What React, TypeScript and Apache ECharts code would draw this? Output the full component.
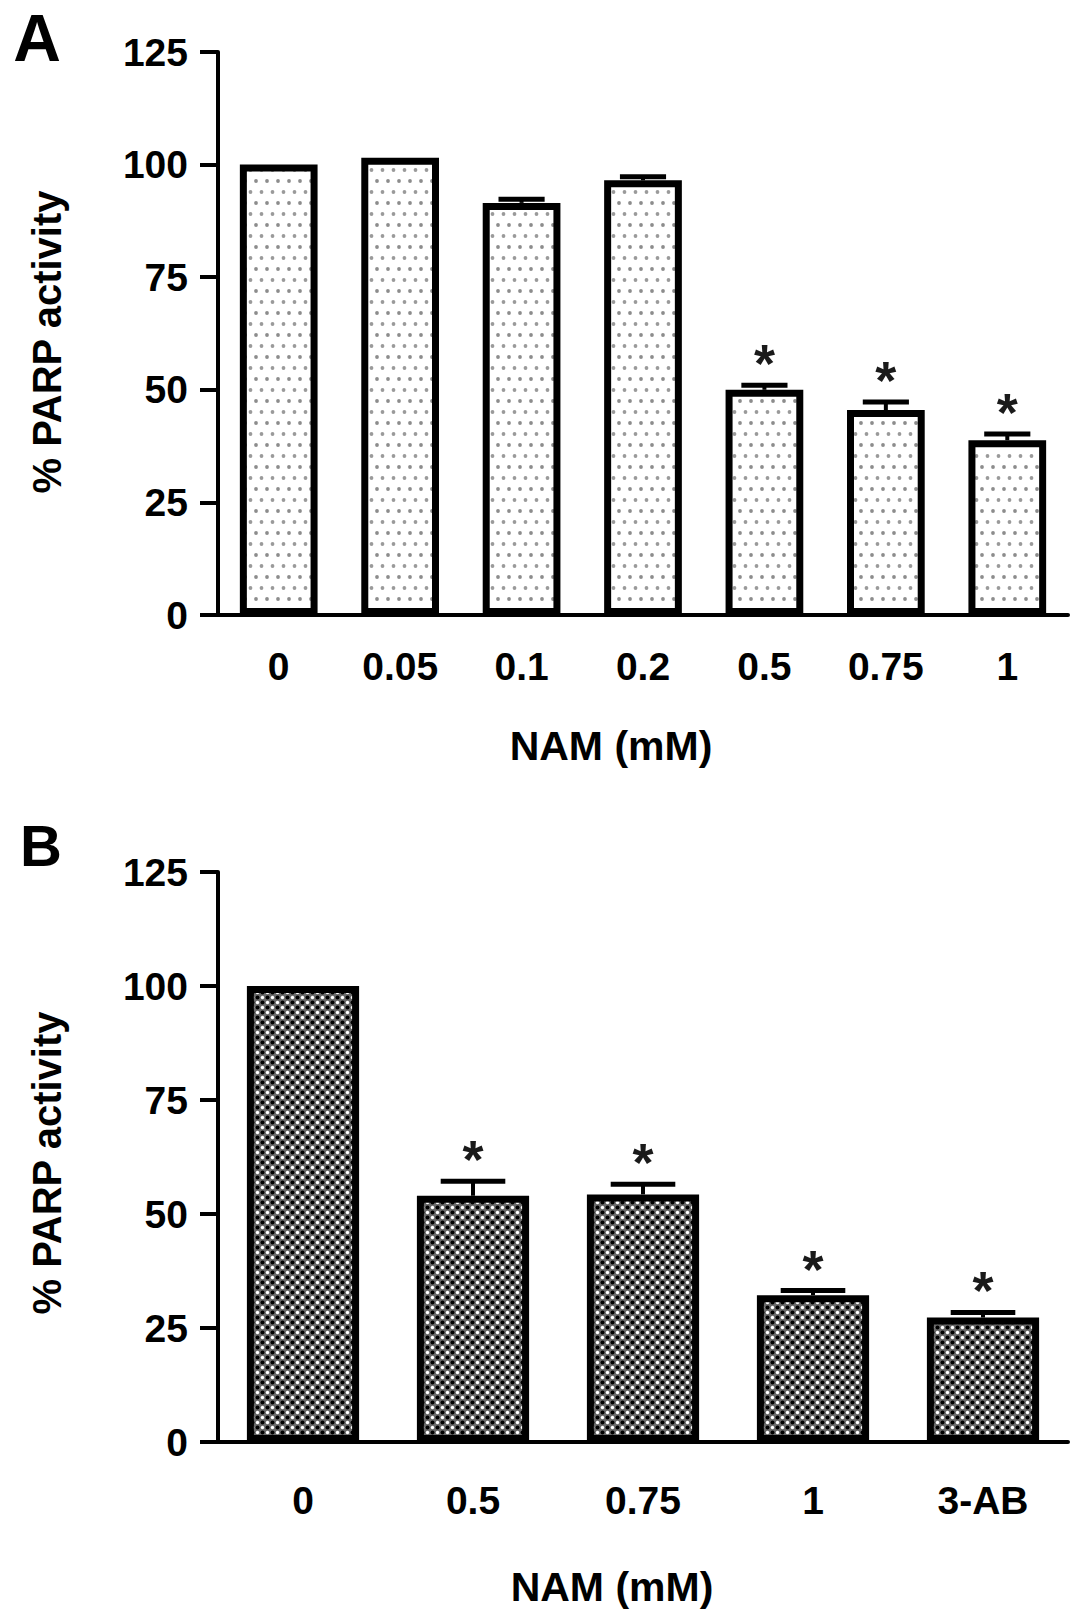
import React, { useEffect, useRef } from "react";
import * as echarts from "echarts";

const FONT = "'Liberation Sans', Arial, Helvetica, sans-serif";

// panel A
const catsA = ["0", "0.05", "0.1", "0.2", "0.5", "0.75", "1"];
const valsA = [100, 101.5, 91.5, 96.5, 50, 45.5, 38.8];
const errsA = [0, 0, 0.8, 0.8, 1.0, 1.8, 1.4];
const sigA = [false, false, false, false, true, true, true];

// panel B
const catsB = ["0", "0.5", "0.75", "1", "3-AB"];
const valsB = [100, 54, 54.3, 32.2, 27.3];
const errsB = [0, 3.2, 2.2, 1.0, 1.1];
const sigB = [false, true, true, true, true];

const yMin = 0;
const yMax = 125;
const yStep = 25;

function dot(g: CanvasRenderingContext2D, x: number, y: number, r: number, c: string) {
  g.fillStyle = c;
  g.beginPath();
  g.arc(x, y, r, 0, Math.PI * 2);
  g.fill();
}

// sparse grey dots, staggered rows
function lightDots() {
  const c = document.createElement("canvas");
  c.width = 11;
  c.height = 22;
  const g = c.getContext("2d")!;
  g.fillStyle = "#ffffff";
  g.fillRect(0, 0, 11, 22);
  dot(g, 3, 5, 1.9, "#8c8c8c");
  dot(g, 8.5, 16, 1.9, "#9a9a9a");
  return c;
}

// dense black/white checker dots
function darkDots() {
  const c = document.createElement("canvas");
  c.width = 10;
  c.height = 10;
  const g = c.getContext("2d")!;
  g.fillStyle = "#6a6a6a";
  g.fillRect(0, 0, 10, 10);
  dot(g, 2.5, 2.5, 2.0, "#000000");
  dot(g, 7.5, 7.5, 2.0, "#000000");
  dot(g, 7.5, 2.5, 1.7, "#ffffff");
  dot(g, 2.5, 7.5, 1.7, "#ffffff");
  return c;
}

const axisLine = { show: true, lineStyle: { color: "#000", width: 4 } };
const labelFont = { color: "#000", fontFamily: FONT, fontWeight: "bold" as const, fontSize: 39 };

const xAxis = (gridIndex: number, data: string[], margin: number) => ({
  type: "category" as const,
  gridIndex,
  data,
  axisLine,
  axisTick: { alignWithLabel: true, length: 15, lineStyle: { color: "#000", width: 4 } },
  axisLabel: { ...labelFont, margin, interval: 0 },
  splitLine: { show: false },
});

const yAxis = (gridIndex: number) => ({
  type: "value" as const,
  gridIndex,
  min: yMin,
  max: yMax,
  interval: yStep,
  axisLine,
  axisTick: { show: true, length: 18, lineStyle: { color: "#000", width: 4 } },
  axisLabel: { ...labelFont, margin: 30 },
  splitLine: { show: false },
});

const errorSeries = (idx: number, vals: number[], errs: number[], sig: boolean[]) => ({
  type: "custom" as const,
  xAxisIndex: idx,
  yAxisIndex: idx,
  z: 5,
  silent: true,
  data: vals.map((v, i) => [i, v, v + errs[i], sig[i] ? 1 : 0, errs[i]]),
  encode: { x: 0, y: [1, 2] },
  renderItem: (_p: any, api: any) => {
    const i = api.value(0);
    const base = api.coord([i, api.value(1)]);
    const top = api.coord([i, api.value(2)]);
    const half = api.size([1, 0])[0] * 0.19;
    const children: any[] = [];
    if (api.value(4) > 0) {
      children.push(
        { type: "line", shape: { x1: top[0], y1: base[1], x2: top[0], y2: top[1] }, style: { stroke: "#000", lineWidth: 4 } },
        { type: "line", shape: { x1: top[0] - half, y1: top[1], x2: top[0] + half, y2: top[1] }, style: { stroke: "#000", lineWidth: 5 } }
      );
    }
    if (api.value(3)) {
      children.push({
        type: "text",
        x: top[0],
        y: top[1] - 22,
        style: { text: "*", fontSize: 54, fontWeight: "bold", fontFamily: FONT, fill: "#1a1a1a", align: "center", verticalAlign: "middle" },
      });
    }
    return { type: "group", children };
  },
});

const txt = (text: string, x: number, y: number, size: number, rotation = 0) => ({
  type: "text" as const,
  x,
  y,
  rotation,
  style: { text, fontSize: size, fontWeight: "bold", fontFamily: FONT, fill: "#000", align: "center", verticalAlign: "middle" },
});

const App = () => {
  const ref = useRef<HTMLDivElement>(null);

  useEffect(() => {
    if (!ref.current) return;
    document.body.style.margin = "0";
    const chart = echarts.init(ref.current, undefined, { renderer: "svg" });

    const option: any = {
      animation: false,
      backgroundColor: "#ffffff",
      grid: [
        { left: 218, top: 52, width: 850, height: 563 },
        { left: 218, top: 872, width: 850, height: 570 },
      ],
      xAxis: [xAxis(0, catsA, 32), xAxis(1, catsB, 39)],
      yAxis: [yAxis(0), yAxis(1)],
      series: [
        {
          type: "bar",
          xAxisIndex: 0,
          yAxisIndex: 0,
          data: valsA,
          barCategoryGap: "36%",
          silent: true,
          itemStyle: {
            color: { image: lightDots(), repeat: "repeat", imageWidth: 11, imageHeight: 22 },
            borderColor: "#000",
            borderWidth: 7,
          },
        },
        errorSeries(0, valsA, errsA, sigA),
        {
          type: "bar",
          xAxisIndex: 1,
          yAxisIndex: 1,
          data: valsB,
          barCategoryGap: "34%",
          silent: true,
          itemStyle: {
            color: { image: darkDots(), repeat: "repeat", imageWidth: 10, imageHeight: 10 },
            borderColor: "#000",
            borderWidth: 7,
          },
        },
        errorSeries(1, valsB, errsB, sigB),
      ],
      graphic: [
        txt("A", 37, 38, 66),
        txt("B", 41, 845, 58),
        txt("% PARP activity", 47, 342, 40, Math.PI / 2),
        txt("% PARP activity", 47, 1163, 40, Math.PI / 2),
        txt("NAM (mM)", 611, 746, 41),
        txt("NAM (mM)", 612, 1587, 41),
      ],
    };

    chart.setOption(option);
    return () => chart.dispose();
  }, []);

  return <div ref={ref} style={{ width: 1087, height: 1609 }} />;
};

export default App;
